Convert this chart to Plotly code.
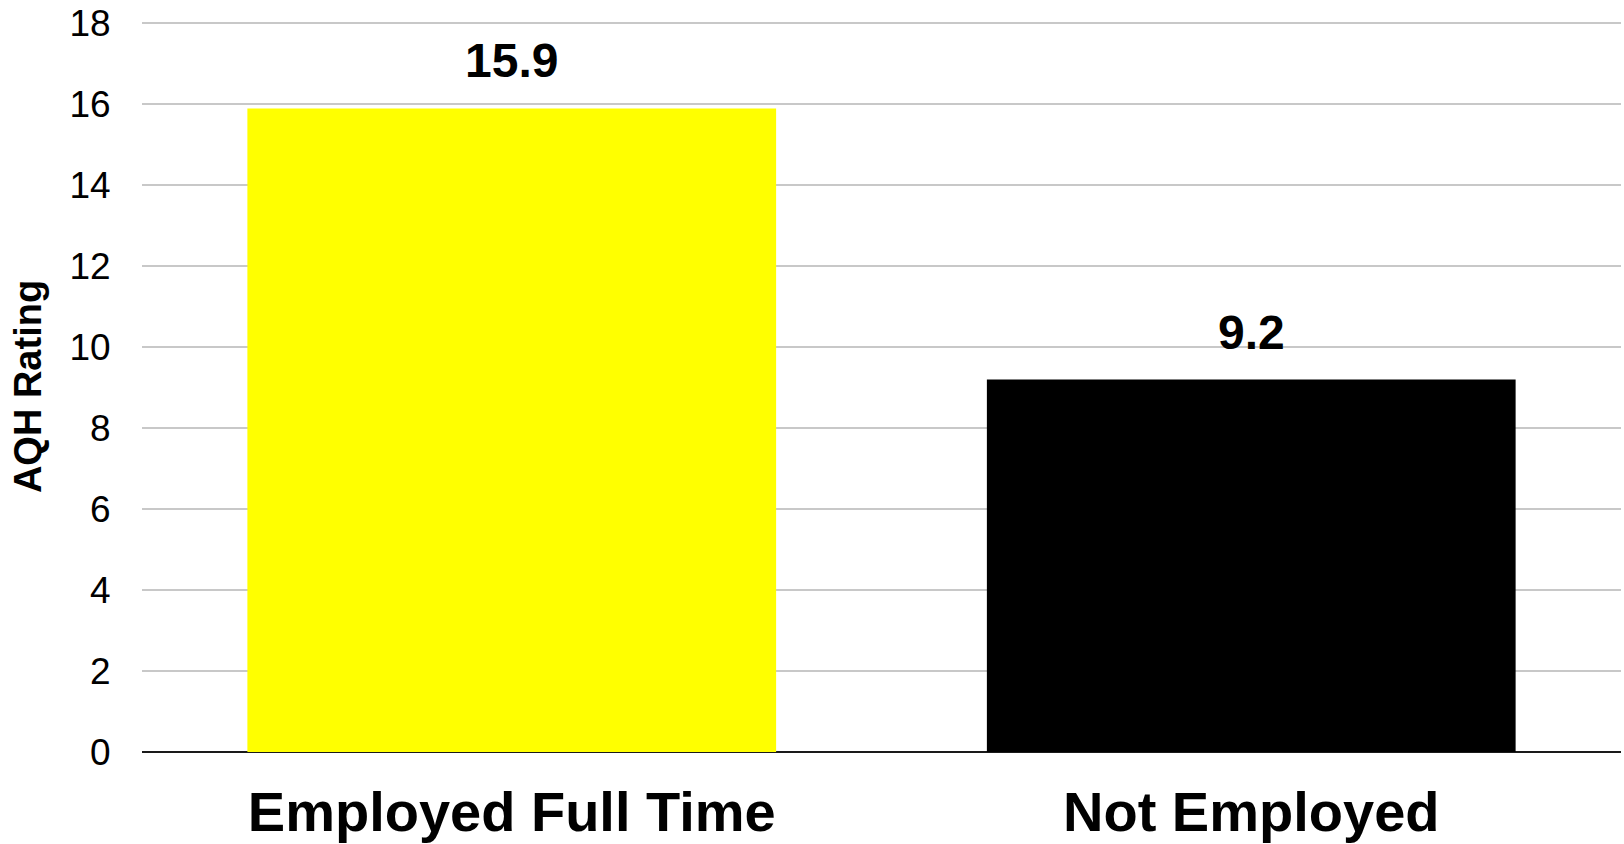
import plotly.graph_objects as go

categories = ["Employed Full Time", "Not Employed"]
values = [15.9, 9.2]
bar_colors = ["#FFFF00", "#000000"]
y_ticks = [0, 2, 4, 6, 8, 10, 12, 14, 16, 18]

FONT = "Arial, Liberation Sans, sans-serif"

fig = go.Figure()
fig.add_trace(go.Bar(
    x=categories,
    y=values,
    marker=dict(color=bar_colors, line=dict(width=0)),
    hoverinfo="skip",
))

for c, v in zip(categories, values):
    fig.add_annotation(
        x=c, y=v, text=f"<b>{v}</b>", showarrow=False,
        yanchor="bottom", yshift=19,
        font=dict(family=FONT, size=48, color="#000000"),
    )

fig.update_layout(
    width=1624, height=844,
    margin=dict(l=142, r=3, t=21, b=92),
    paper_bgcolor="#FFFFFF", plot_bgcolor="#FFFFFF",
    bargap=0.285,
    showlegend=False,
    font=dict(family=FONT, color="#000000"),
)

fig.update_xaxes(
    showgrid=False, showline=False, zeroline=False,
    ticks="outside", ticklen=11, tickcolor="rgba(0,0,0,0)",
    tickfont=dict(family=FONT, size=56, color="#000000", weight="bold"),
    automargin=False,
)

fig.update_yaxes(
    range=[0, 18.06], tickvals=y_ticks,
    showgrid=True, gridcolor="#C8C8C8", gridwidth=2,
    zeroline=True, zerolinecolor="#1A1A1A", zerolinewidth=2,
    showline=False,
    ticks="outside", ticklen=23, tickcolor="rgba(0,0,0,0)",
    tickfont=dict(family=FONT, size=37, color="#000000"),
    title=dict(text="<b>AQH Rating</b>", standoff=16,
               font=dict(family=FONT, size=38, color="#000000")),
    automargin=False,
)

fig.write_html(
    "out.html",
    config={"displayModeBar": False},
    post_script="document.body.style.margin='0';document.body.style.overflow='hidden';",
)
